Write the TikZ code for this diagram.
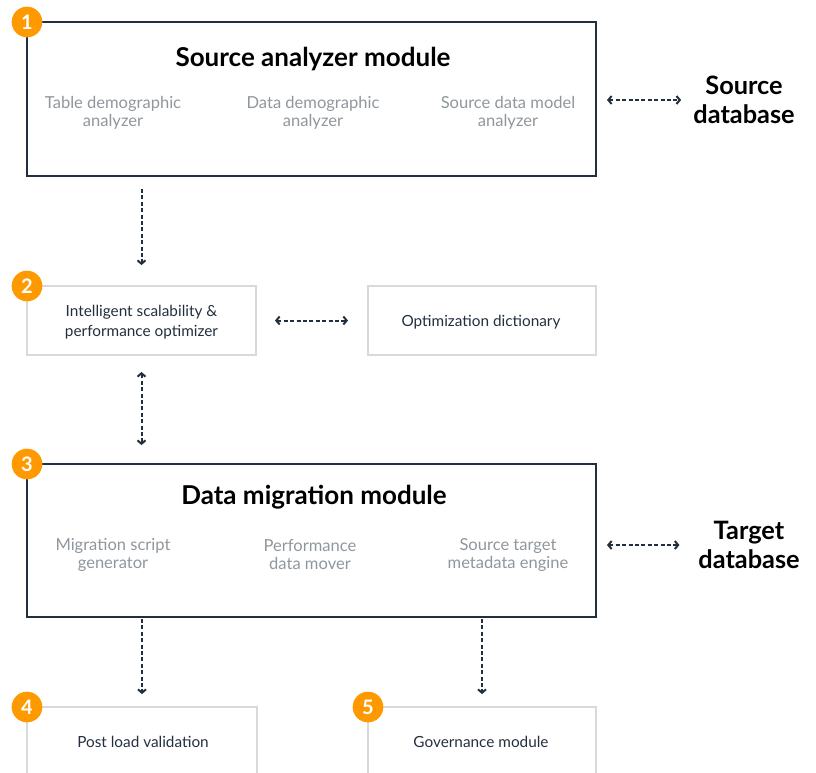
\documentclass[tikz,border=0pt]{standalone}
\usepackage{fontspec}
\setmainfont{Lato}
\usetikzlibrary{arrows.meta}
\definecolor{ink}{HTML}{232F3E}
\definecolor{subgray}{HTML}{8F969C}
\definecolor{lightb}{HTML}{D5DBDB}
\definecolor{orng}{HTML}{FF9900}
\tikzset{
  modbox/.style={draw=ink, line width=1.5pt, inner sep=0pt, outer sep=0pt},
  smallbox/.style={draw=lightb, line width=1.5pt, inner sep=0pt, outer sep=0pt,
    align=center, text=ink, font=\fontsize{11.5}{15}\selectfont},
  boxtxt/.style={align=center, text=ink, font=\fontsize{11.5}{15}\selectfont},
  badge/.style={circle, fill=orng, text=white, inner sep=0pt, minimum size=23pt,
    font=\fontsize{15}{15}\selectfont\bfseries},
  modtitle/.style={font=\fontsize{19.5}{21}\selectfont\bfseries, text=black},
  subtxt/.style={align=center, text=subgray, font=\fontsize{12.4}{13.5}\selectfont},
  dbtxt/.style={align=center, text=black, inner sep=0pt, font=\fontsize{19}{21.75}\selectfont\bfseries},
  darr/.style={draw=ink, line width=1.5pt, dash pattern=on 3pt off 1.8pt,
    -{Straight Barb[length=2.5pt,width=6pt]}},
  dbarr/.style={darr, {Straight Barb[length=2.5pt,width=6pt]}-{Straight Barb[length=2.5pt,width=6pt]}},
}
\begin{document}
\begin{tikzpicture}[x=0.75pt,y=-0.75pt]
\path[use as bounding box] (0,0) rectangle (816,772);
\clip (0,0) rectangle (816,772);
% module 1
\node[modbox, minimum width=426.75pt, minimum height=115.5pt] (m1) at (311.5,99) {};
\node[modtitle] (m1t) at (313,59) {Source analyzer module};
\node[subtxt] (m1a) at (113,113) {Table demographic\\analyzer};
\node[subtxt] (m1b) at (313,113) {Data demographic\\analyzer};
\node[subtxt] (m1c) at (508,113) {Source data model\\analyzer};
\node[dbtxt] (sdb) at (744,100) {Source\\database};
% module 2 row
\node[smallbox, minimum width=171.75pt, minimum height=51.75pt] (m2) at (141.5,320.5) {};
\node[boxtxt] (m2t) at (141.5,322) {Intelligent scalability \&\\performance optimizer};
\node[smallbox, minimum width=171pt, minimum height=51.75pt] (od) at (482,320.5) {};
\node[boxtxt] (odt) at (481,322) {Optimization dictionary};
% module 3
\node[modbox, minimum width=426.75pt, minimum height=114.75pt] (m3) at (311.5,540.5) {};
\node[modtitle] (m3t) at (314,497) {Data migration module};
\node[subtxt] (m3a) at (113,555) {Migration script\\generator};
\node[subtxt] (m3b) at (310,555) {Performance\\data mover};
\node[subtxt] (m3c) at (508,555) {Source target\\metadata engine};
\node[dbtxt] (tdb) at (749,545) {Target\\database};
% bottom boxes
\node[smallbox, minimum width=172.5pt, minimum height=75pt] (m4) at (142,757) {};
\node[smallbox, minimum width=171pt, minimum height=75pt] (m5) at (482,757) {};
\node[boxtxt] (m4t) at (143,742) {Post load validation};
\node[boxtxt] (m5t) at (481,742) {Governance module};
% badges
\node[badge] (b1) at (m1.north west) {1};
\node[badge] (b2) at (m2.north west) {2};
\node[badge] (b3) at (m3.north west) {3};
\node[badge] (b4) at (m4.north west) {4};
\node[badge] (b5) at (m5.north west) {5};
% connectors
\draw[darr, shorten <=9.75pt, shorten >=15.75pt] (m2.north |- m1.south) -- (m2.north);
\draw[dbarr, shorten <=14.25pt, shorten >=15pt] (m2.east) -- (od.west);
\draw[dbarr, shorten <=12.75pt, shorten >=14.25pt] (m2.south) -- (m2.south |- m3.north);
\draw[darr, shorten <=1.5pt, shorten >=9.75pt] (m4.north |- m3.south) -- (m4.north);
\draw[darr, shorten <=1.5pt, shorten >=9.75pt] (m5.north |- m3.south) -- (m5.north);
\draw[dbarr, shorten <=8.25pt, shorten >=9pt] (m1.east |- sdb.west) -- (sdb.west);
\draw[dbarr, shorten <=8.25pt, shorten >=14pt] (m3.east |- tdb.west) -- (tdb.west);
\end{tikzpicture}
\end{document}
